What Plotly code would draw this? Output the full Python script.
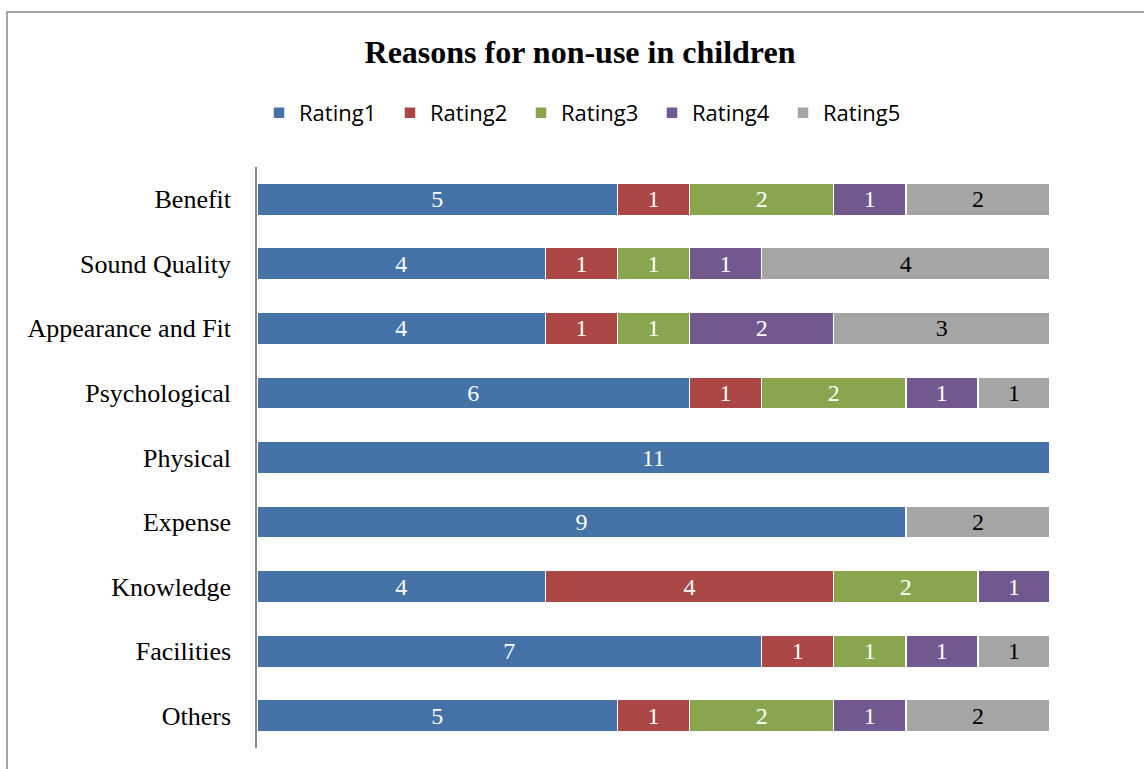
import plotly.graph_objects as go

categories = ["Benefit", "Sound Quality", "Appearance and Fit", "Psychological",
              "Physical", "Expense", "Knowledge", "Facilities", "Others"]
series_names = ["Rating1", "Rating2", "Rating3", "Rating4", "Rating5"]
rating1 = [5, 4, 4, 6, 11, 9, 4, 7, 5]
rating2 = [1, 1, 1, 1, 0, 0, 4, 1, 1]
rating3 = [2, 1, 1, 2, 0, 0, 2, 1, 2]
rating4 = [1, 1, 2, 1, 0, 0, 1, 1, 1]
rating5 = [2, 4, 3, 1, 0, 2, 0, 1, 2]
colors = ["#4572A7", "#AA4643", "#89A54E", "#71588F", "#A5A5A5"]
text_colors = ["white", "white", "white", "white", "black"]

fig = go.Figure()
for name, vals, col, tc in zip(series_names, [rating1, rating2, rating3, rating4, rating5], colors, text_colors):
    fig.add_trace(go.Bar(
        y=categories, x=[v if v else None for v in vals], name=name, orientation="h",
        marker=dict(color=col, line=dict(color="white", width=1.5)),
        text=[str(v) if v else "" for v in vals], textposition="inside",
        insidetextanchor="middle", textangle=0,
        textfont=dict(family="Liberation Serif", size=24, color=tc),
        hoverinfo="skip",
    ))

W, H = 1144, 769
L, R, T, B = 257, 1050, 167, 748

def px(x):
    return (x - L) / (R - L)

def py(y):
    return (B - y) / (B - T)

fig.update_layout(
    width=W, height=H, barmode="stack", bargap=0.5,
    margin=dict(l=L, r=W - R, t=T, b=H - B),
    plot_bgcolor="white", paper_bgcolor="white",
    title=dict(text="<b>Reasons for non-use in children</b>", x=580 / W, xref="container",
               xanchor="center", y=1 - 52 / H, yref="container", yanchor="middle",
               font=dict(family="Liberation Serif", size=32, color="black")),
    legend=dict(orientation="h", xref="container", x=259 / W, xanchor="left",
                yref="container", y=1 - 113 / H, yanchor="middle",
                font=dict(family="Open Sans", size=22, color="black"),
                entrywidth=86, entrywidthmode="pixels", traceorder="normal"),
    xaxis=dict(range=[0, 11], showgrid=False, showticklabels=False, zeroline=False,
               showline=False, ticks=""),
    yaxis=dict(autorange="reversed", showline=True, linecolor="#888888", linewidth=1.5,
               ticks="", ticklabelstandoff=19,
               tickfont=dict(family="Liberation Serif", size=26, color="black")),
    shapes=[dict(type="rect", xref="paper", yref="paper",
                 x0=px(7), x1=px(1160), y0=py(790), y1=py(12),
                 line=dict(color="#888888", width=1.5), fillcolor="rgba(0,0,0,0)")],
)

fig.write_html("out.html")
